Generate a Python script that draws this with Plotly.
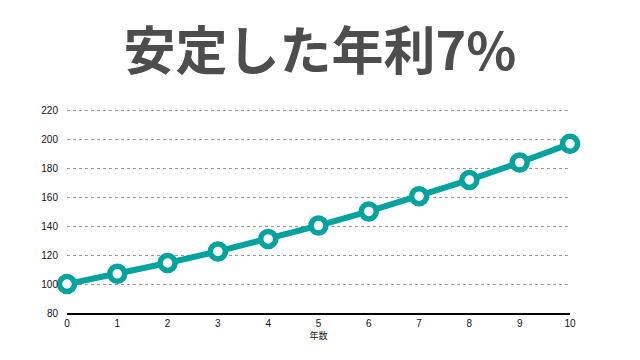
import plotly.graph_objects as go

years = [0, 1, 2, 3, 4, 5, 6, 7, 8, 9, 10]
values = [100, 107, 114.5, 122.5, 131.1, 140.3, 150.1, 160.6, 171.8, 183.8, 196.7]
y_ticks = [80, 100, 120, 140, 160, 180, 200, 220]

fig = go.Figure()
fig.add_trace(go.Scatter(
    x=years, y=values, mode="lines+markers",
    line=dict(color="#05a39d", width=6),
    marker=dict(size=15, color="white", line=dict(color="#05a39d", width=5.5)),
    cliponaxis=False, showlegend=False,
))
fig.update_layout(
    width=640, height=360,
    margin=dict(l=67, r=70, t=106, b=47),
    paper_bgcolor="white", plot_bgcolor="white",
    title=dict(text="<b>安定した年利7%</b>", x=0.5, xanchor="center", y=0.855, yanchor="middle",
               font=dict(family="Noto Sans CJK JP", size=52, color="#4d4d4d")),
    font=dict(family="Noto Sans CJK JP", size=10, color="#111"),
)
fig.update_xaxes(range=[0, 10], tickvals=years, showgrid=False, showline=True,
                 linecolor="black", linewidth=1.5, zeroline=False,
                 title=dict(text="年数", font=dict(size=9), standoff=4),
                 tickfont=dict(size=10, family="Liberation Sans"))
fig.update_yaxes(range=[80, 222.8], tickvals=y_ticks, showgrid=True, gridcolor="#999",
                 griddash="dot", gridwidth=1, zeroline=False, showline=False,
                 ticks="", ticklabelstandoff=8,
                 tickfont=dict(size=10, family="Liberation Sans"))
fig.write_html("out.html")
